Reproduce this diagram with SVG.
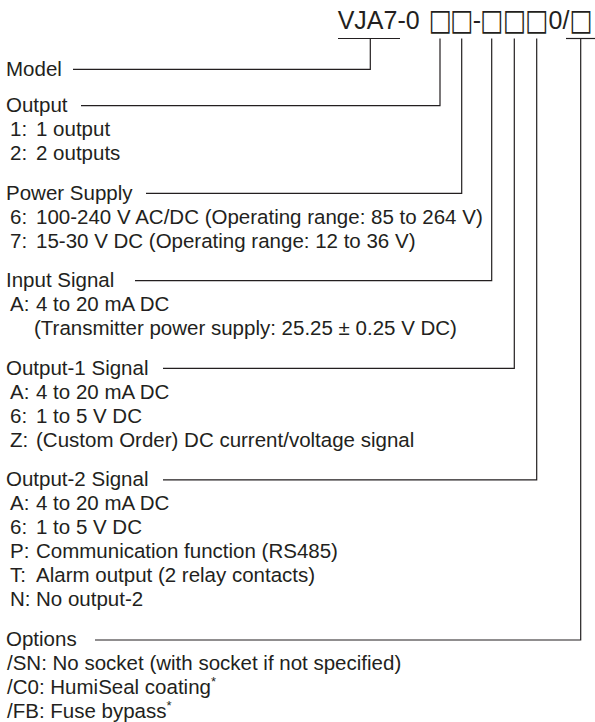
<svg xmlns="http://www.w3.org/2000/svg" width="595" height="722" viewBox="0 0 595 722">
<style>
text{font-family:"Liberation Sans",Arial,sans-serif;font-size:20.5px;fill:#231f20}
.title{font-size:25px}
.sq{font-family:"DejaVu Sans",sans-serif;font-size:24.5px;text-anchor:middle}
.sup{font-size:13px}
.ln{fill:none;stroke:#231f20;stroke-width:1.2}
</style>
<rect width="595" height="722" fill="#fff"/>
<g id="title">
<text class="title" y="29"><tspan x="337.7">VJA7-0</tspan><tspan x="472.7">-</tspan><tspan x="548.5">0/</tspan></text>
<text class="sq" transform="translate(0 30) scale(1 1.22)"><tspan x="440" y="0">□</tspan><tspan x="461.7" y="0">□</tspan><tspan x="491.7" y="0">□</tspan><tspan x="514.3" y="0">□</tspan><tspan x="536.7" y="0">□</tspan><tspan x="580.7" y="0">□</tspan></text>
</g>
<g id="connectors" class="ln">
<path d="M338 38.5H400"/>
<path d="M566 38.5H595"/>
<path d="M73 69.3H370.3V38.5"/>
<path d="M81 105.7H440V38.5"/>
<path d="M146 193.3H461.7V38.5"/>
<path d="M135 280.7H491.7V38.5"/>
<path d="M163 368.3H514.3V38.5"/>
<path d="M163 479.8H536.7V38.5"/>
<path d="M95 640H580.7V38.5"/>
</g>
<g id="model"><text x="6" y="75.5">Model</text></g>
<g id="output">
<text x="6" y="112">Output</text>
<text x="10" y="136">1:<tspan x="36">1 output</tspan></text>
<text x="10" y="160">2:<tspan x="36">2 outputs</tspan></text>
</g>
<g id="power">
<text x="6" y="199.5">Power Supply</text>
<text x="10" y="223.5">6:<tspan x="36">100-240 V AC/DC (Operating range: 85 to 264 V)</tspan></text>
<text x="10" y="247.5">7:<tspan x="36">15-30 V DC (Operating range: 12 to 36 V)</tspan></text>
</g>
<g id="input">
<text x="6" y="287">Input Signal</text>
<text x="10" y="311">A:<tspan x="36">4 to 20 mA DC</tspan></text>
<text x="34" y="335">(Transmitter power supply: 25.25 ± 0.25 V DC)</text>
</g>
<g id="output1">
<text x="6" y="374.5">Output-1 Signal</text>
<text x="10" y="398.5">A:<tspan x="36">4 to 20 mA DC</tspan></text>
<text x="10" y="422.5">6:<tspan x="36">1 to 5 V DC</tspan></text>
<text x="10" y="446.5">Z:<tspan x="36">(Custom Order) DC current/voltage signal</tspan></text>
</g>
<g id="output2">
<text x="6" y="486">Output-2 Signal</text>
<text x="10" y="510">A:<tspan x="36">4 to 20 mA DC</tspan></text>
<text x="10" y="534">6:<tspan x="36">1 to 5 V DC</tspan></text>
<text x="10" y="558">P:<tspan x="36">Communication function (RS485)</tspan></text>
<text x="10" y="582">T:<tspan x="36">Alarm output (2 relay contacts)</tspan></text>
<text x="10" y="606">N:<tspan x="36">No output-2</tspan></text>
</g>
<g id="options">
<text x="6" y="645.5">Options</text>
<text x="7" y="670">/SN: No socket (with socket if not specified)</text>
<text x="7" y="694">/C0: HumiSeal coating<tspan class="sup" dy="-8">*</tspan></text>
<text x="7" y="718">/FB: Fuse bypass<tspan class="sup" dy="-8">*</tspan></text>
</g>
</svg>
